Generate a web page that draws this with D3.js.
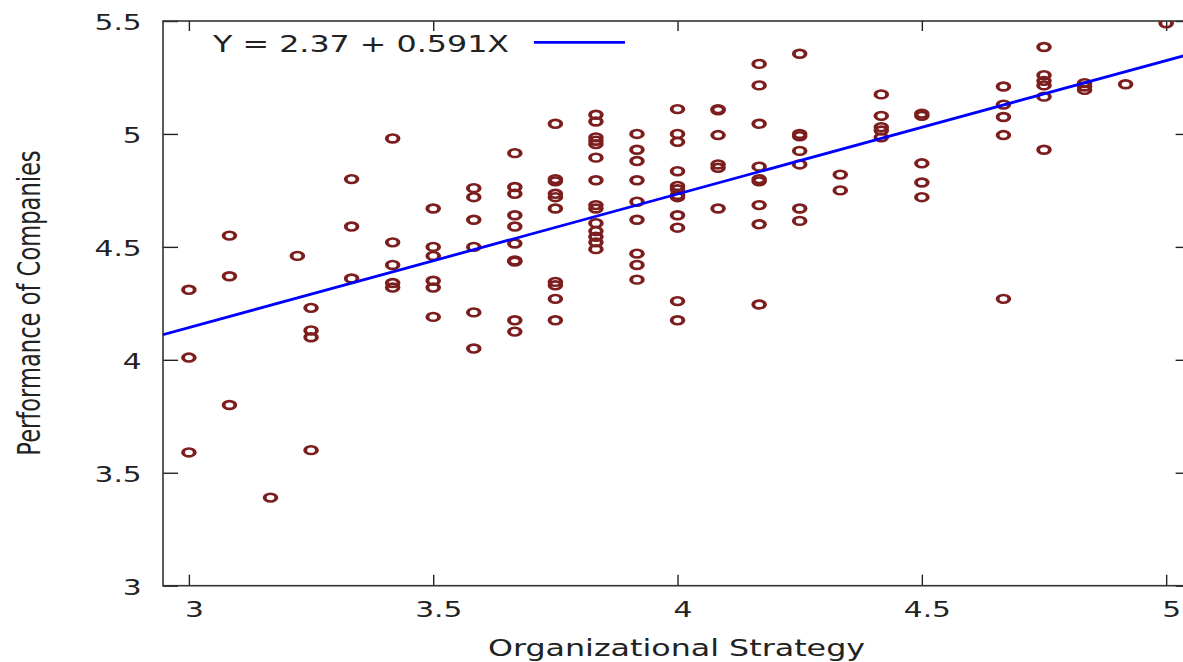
<!DOCTYPE html>
<html>
<head>
	<meta charset="utf-8">
	<title>Organizational Strategy vs Performance</title>
	<script src="https://d3js.org/d3.v7.min.js"></script>
	<style>
		body { margin: 0; background: #fff; }
		text { font-family: "DejaVu Sans", Verdana, sans-serif; fill: #222; }
	</style>
</head>
<body>

	<script type="text/javascript">

		// Data
		var strategyLevels = [3, 3.083, 3.167, 3.222, 3.25, 3.333, 3.417, 3.5, 3.583, 3.667, 3.75, 3.833,
		                      3.917, 4, 4.083, 4.167, 4.25, 4.333, 4.417, 4.5, 4.667, 4.75, 4.833, 4.917, 5];

		var performanceByLevel = [
			[4.31, 4.01, 3.59],
			[4.55, 4.37, 3.80],
			[3.39],
			[4.46],
			[4.23, 4.13, 4.10, 3.60],
			[4.80, 4.59, 4.36],
			[4.98, 4.52, 4.42, 4.34, 4.32],
			[4.67, 4.50, 4.46, 4.35, 4.32, 4.19],
			[4.76, 4.72, 4.62, 4.50, 4.21, 4.05],
			[4.915, 4.765, 4.735, 4.64, 4.59, 4.515, 4.44, 4.435, 4.175, 4.125],
			[5.045, 4.80, 4.79, 4.735, 4.72, 4.67, 4.345, 4.33, 4.27, 4.175],
			[5.085, 5.055, 4.985, 4.97, 4.955, 4.895, 4.795, 4.685, 4.67, 4.605, 4.57, 4.545, 4.52, 4.49],
			[5.00, 4.93, 4.88, 4.795, 4.70, 4.62, 4.47, 4.42, 4.355],
			[5.11, 5.00, 4.965, 4.835, 4.77, 4.755, 4.73, 4.72, 4.64, 4.585, 4.26, 4.175],
			[5.11, 5.105, 4.995, 4.865, 4.85, 4.67],
			[5.31, 5.215, 5.045, 4.855, 4.80, 4.79, 4.685, 4.60, 4.245],
			[5.355, 5.00, 4.99, 4.925, 4.865, 4.67, 4.615],
			[4.82, 4.75],
			[5.175, 5.08, 5.03, 5.015, 4.985],
			[5.09, 5.08, 4.87, 4.785, 4.72],
			[5.21, 5.13, 5.075, 4.995, 4.27],
			[5.385, 5.26, 5.235, 5.215, 5.165, 4.93],
			[5.225, 5.21, 5.195],
			[5.22],
			[5.49]
		];

		var xTicks = [3, 3.5, 4, 4.5, 5];
		var yTicks = [3, 3.5, 4, 4.5, 5, 5.5];

		var intercept = 2.37,
		    slope = 0.591;

		var xLabel = 'Organizational Strategy',
		    yLabel = 'Performance of Companies',
		    fitLabel = 'Y = 2.37 + 0.591X';

		// Layout
		var outerWidth = 1183,
		    outerHeight = 662,
		    stretch = 1.38;   // picture is wider than tall, text is stretched too

		var plot = {left: 163, top: 21, right: 1190.6, bottom: 585.7};

		var points = [];
		strategyLevels.forEach(function(x, i) {
			performanceByLevel[i].forEach(function(y) {
				points.push({x: x, y: y});
			});
		});

		// Scales
		var xScale = d3.scaleLinear()
		               .domain([2.947, 5.05])
		               .range([plot.left, plot.right]);

		var yScale = d3.scaleLinear()
		               .domain([3, 5.5])
		               .range([plot.bottom, plot.top]);

		// Add chart
		var chart = d3.select('body')
		              .append('svg')
		              .attr('width', outerWidth)
		              .attr('height', outerHeight);

		chart.append('clipPath')
		     .attr('id', 'plot-clip')
		     .append('rect')
		     .attr('x', plot.left)
		     .attr('y', plot.top)
		     .attr('width', plot.right - plot.left)
		     .attr('height', plot.bottom - plot.top);

		// Axes with ticks on all four sides
		var bottomAxis = chart.append('g')
		     .attr('transform', 'translate(0,' + plot.bottom + ')')
		     .call(d3.axisBottom(xScale)
		             .tickValues(xTicks)
		             .tickFormat(String)
		             .tickSizeInner(-11)
		             .tickSizeOuter(0)
		             .tickPadding(16.5));

		bottomAxis.selectAll('text')
		          .style('font-size', '21.5px')
		          .attr('dx', 5 / stretch)
		          .attr('transform', 'scale(' + stretch + ',1)');

		var leftAxis = chart.append('g')
		     .attr('transform', 'translate(' + plot.left + ',0)')
		     .call(d3.axisLeft(yScale)
		             .tickValues(yTicks)
		             .tickFormat(String)
		             .tickSizeInner(-15)
		             .tickSizeOuter(0)
		             .tickPadding(0));

		leftAxis.selectAll('text')
		        .style('font-size', '21.5px')
		        .attr('x', -21.3 / stretch)
		        .attr('dy', '0.4em')
		        .attr('transform', 'scale(' + stretch + ',1)');

		chart.append('g')
		     .attr('transform', 'translate(0,' + plot.top + ')')
		     .call(d3.axisTop(xScale)
		             .tickValues(xTicks)
		             .tickFormat('')
		             .tickSizeInner(-10)
		             .tickSizeOuter(0));

		chart.append('g')
		     .attr('transform', 'translate(' + plot.right + ',0)')
		     .call(d3.axisRight(yScale)
		             .tickValues(yTicks)
		             .tickFormat('')
		             .tickSizeInner(-15)
		             .tickSizeOuter(0));

		chart.selectAll('.domain').remove();
		chart.selectAll('.tick line')
		     .attr('stroke', '#222')
		     .attr('stroke-width', 1.4);

		// Border
		chart.append('rect')
		     .attr('x', plot.left)
		     .attr('y', plot.top)
		     .attr('width', plot.right - plot.left)
		     .attr('height', plot.bottom - plot.top)
		     .attr('fill', 'none')
		     .attr('stroke', '#333')
		     .attr('stroke-width', 1.6);

		// Scatter points (circles stretched like the rest of the picture)
		chart.append('g')
		     .attr('clip-path', 'url(#plot-clip)')
		     .selectAll('circle')
		     .data(points)
		     .enter()
		     .append('circle')
		     .attr('transform', function(d) {
		     	return 'translate(' + xScale(d.x) + ',' + yScale(d.y) + ') scale(1.5,1)';
		     })
		     .attr('r', 3.9)
		     .attr('fill', 'none')
		     .attr('stroke', '#7c1e1e')
		     .attr('stroke-width', 2.6);

		// Fitted line
		var fitDomain = xScale.domain();
		chart.append('line')
		     .attr('clip-path', 'url(#plot-clip)')
		     .attr('x1', xScale(fitDomain[0]))
		     .attr('y1', yScale(intercept + slope * fitDomain[0]))
		     .attr('x2', xScale(fitDomain[1]))
		     .attr('y2', yScale(intercept + slope * fitDomain[1]))
		     .attr('stroke', '#0000ff')
		     .attr('stroke-width', 2.8);

		// Legend
		chart.append('text')
		     .attr('transform', 'translate(213,52) scale(' + stretch + ',1)')
		     .style('font-size', '23px')
		     .text(fitLabel);

		chart.append('line')
		     .attr('x1', 534)
		     .attr('x2', 625)
		     .attr('y1', 42.3)
		     .attr('y2', 42.3)
		     .attr('stroke', '#0000ff')
		     .attr('stroke-width', 2.8);

		// Axis titles
		chart.append('text')
		     .attr('transform', 'translate(676.5,656) scale(' + stretch + ',1)')
		     .style('font-size', '23px')
		     .style('text-anchor', 'middle')
		     .text(xLabel);

		chart.append('text')
		     .attr('transform', 'translate(39.5,303) scale(' + stretch + ',1) rotate(-90)')
		     .style('font-size', '22.6px')
		     .style('text-anchor', 'middle')
		     .text(yLabel);

	</script>
</body>
</html>
